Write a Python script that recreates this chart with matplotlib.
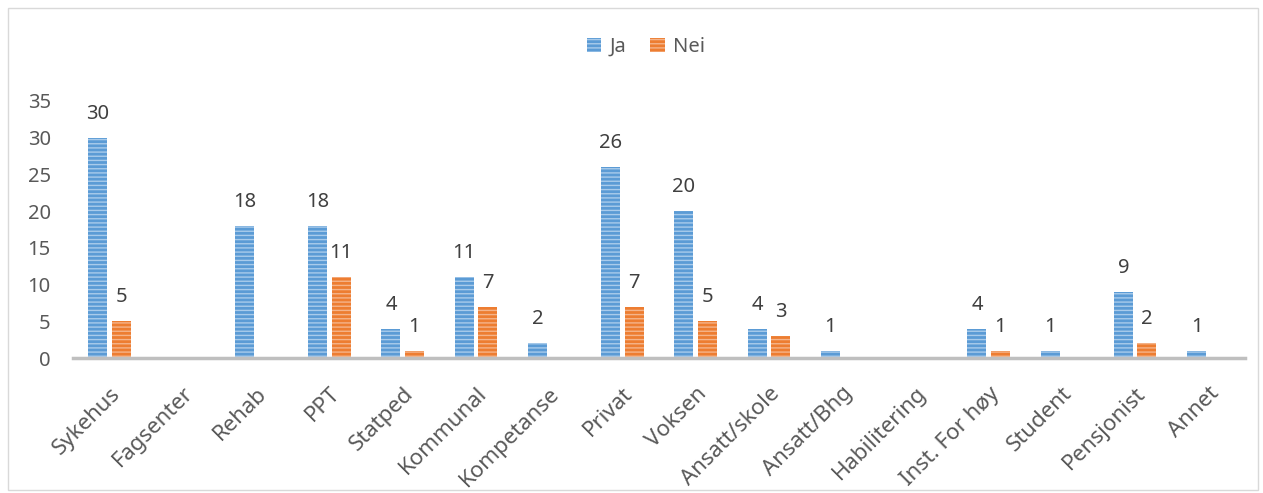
import numpy as np
import matplotlib.pyplot as plt
from matplotlib.patches import Rectangle

categories = ["Sykehus", "Fagsenter", "Rehab", "PPT", "Statped", "Kommunal",
              "Kompetanse", "Privat", "Voksen", "Ansatt/skole", "Ansatt/Bhg",
              "Habilitering", "Inst. For høy", "Student", "Pensjonist", "Annet"]
ja = [30, np.nan, 18, 18, 4, 11, 2, 26, 20, 4, 1, np.nan, 4, 1, 9, 1]
nei = [5, np.nan, np.nan, 11, 1, 7, np.nan, 7, 5, 3, np.nan, np.nan, 1, np.nan, 2, np.nan]

plt.rcParams['font.family'] = ['Noto Sans', 'DejaVu Sans']
plt.rcParams['hatch.linewidth'] = 1.0

fs = 14.5
fig = plt.figure(figsize=(12.63, 4.93), dpi=100)
ax = fig.add_axes([73 / 1263, 1 - 358 / 493, 1172 / 1263, 257 / 493])

x = np.arange(len(categories))
w = 0.26
gap = 0.03
blue, orange = '#5B9BD5', '#ED7D31'

b1 = ax.bar(x - w / 2 - gap, ja, w, color=blue, edgecolor='#A9CBEB',
            linewidth=0, hatch='----', label='Ja')
b2 = ax.bar(x + w / 2 + gap, nei, w, color=orange, edgecolor='#F5B48A',
            linewidth=0, hatch='----', label='Nei')

# value labels above each bar
for bars, vals in [(b1, ja), (b2, nei)]:
    for rect, v in zip(bars, vals):
        if np.isnan(v):
            continue
        ax.annotate(f"{int(v)}", (rect.get_x() + rect.get_width() / 2, v),
                    xytext=(0, 10), textcoords='offset points',
                    ha='center', va='bottom', fontsize=fs, color='#404040')

ax.set_ylim(0, 35)
ax.set_xlim(-0.5, len(categories) - 0.5)
ax.set_yticks(range(0, 36, 5))
ax.set_xticks(x)
ax.set_xticklabels(categories, rotation=45, ha='right', rotation_mode='anchor')
ax.tick_params(axis='both', length=0, labelsize=fs, labelcolor='#595959')
ax.tick_params(axis='x', labelsize=16, pad=18)
ax.tick_params(axis='y', pad=16)
for s in ['top', 'right', 'left']:
    ax.spines[s].set_visible(False)
ax.spines['bottom'].set_color('#BFBFBF')
ax.spines['bottom'].set_linewidth(2.5)

fig.legend(loc='center', bbox_to_anchor=(646 / 1263, 1 - 47 / 493), ncol=2, frameon=False,
           fontsize=fs, labelcolor='#595959', handlelength=0.7, handleheight=0.7,
           handletextpad=0.4, columnspacing=1.2)

# light frame around the chart area
fig.patches.append(Rectangle((8 / 1263, 3 / 493), 1250 / 1263, 482 / 493,
                             transform=fig.transFigure, fill=False,
                             edgecolor='#D9D9D9', linewidth=1))

fig.savefig('out.png', dpi=100)
